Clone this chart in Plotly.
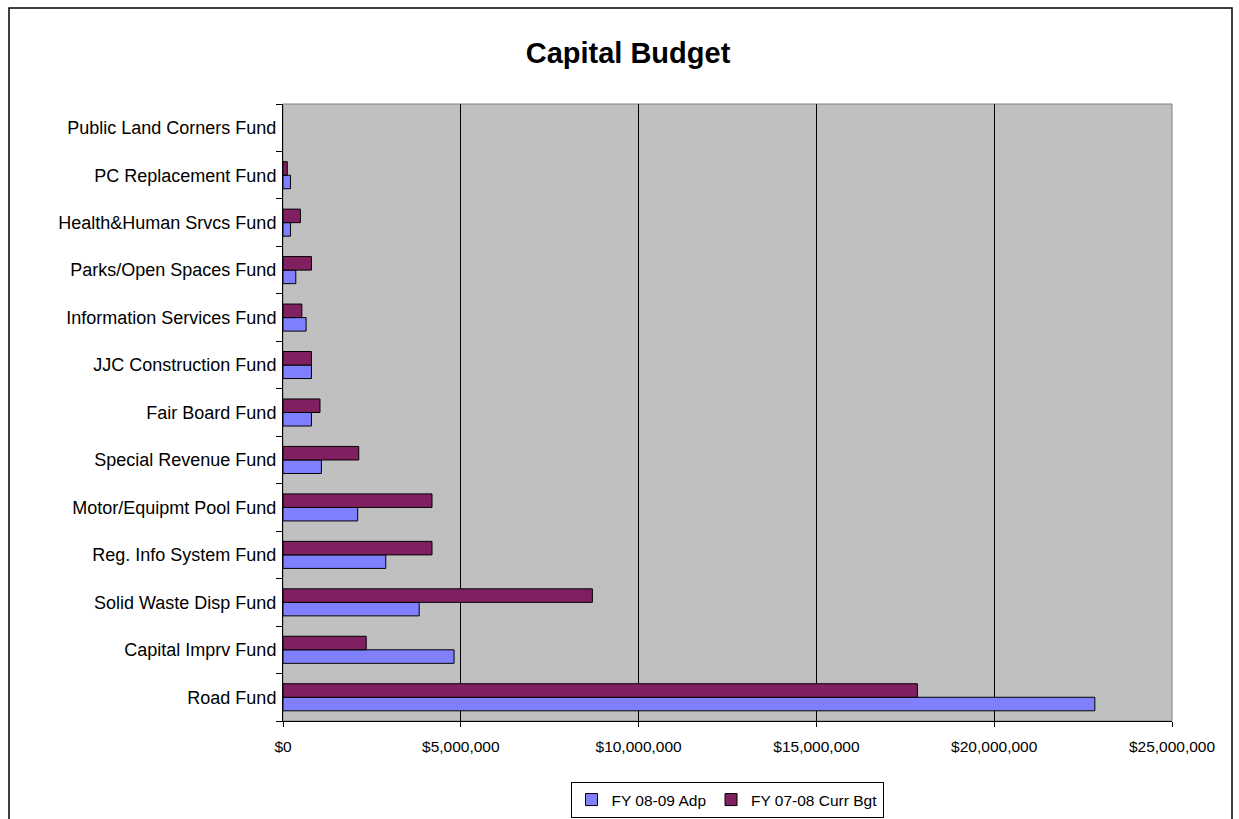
import plotly.graph_objects as go

categories = [
    "Road Fund", "Capital Imprv Fund", "Solid Waste Disp Fund", "Reg. Info System Fund",
    "Motor/Equipmt Pool Fund", "Special Revenue Fund", "Fair Board Fund",
    "JJC Construction Fund", "Information Services Fund", "Parks/Open Spaces Fund",
    "Health&Human Srvcs Fund", "PC Replacement Fund", "Public Land Corners Fund",
]
fy0809_adp = [22830000, 4810000, 3830000, 2890000, 2100000, 1080000, 800000,
              800000, 650000, 360000, 210000, 210000, 0]
fy0708_curr = [17840000, 2340000, 8700000, 4190000, 4190000, 2130000, 1040000,
               800000, 530000, 800000, 490000, 120000, 0]
x_tickvals = [0, 5000000, 10000000, 15000000, 20000000, 25000000]
x_ticktext = ["$0", "$5,000,000", "$10,000,000", "$15,000,000", "$20,000,000", "$25,000,000"]

FONT = "Arial, 'Liberation Sans', sans-serif"

fig = go.Figure()
fig.add_trace(go.Bar(y=categories, x=fy0809_adp, orientation="h", name="FY 08-09 Adp",
                     marker=dict(color="#8080FF",
                                 line=dict(color="black", width=[1 if v > 0 else 0 for v in fy0809_adp]))))
fig.add_trace(go.Bar(y=categories, x=fy0708_curr, orientation="h", name="FY 07-08 Curr Bgt",
                     marker=dict(color="#802060",
                                 line=dict(color="black", width=[1 if v > 0 else 0 for v in fy0708_curr]))))

W, H = 1239, 819
L, R, T, B = 283, W - 1172, 104, H - 721
pw, ph = W - L - R, H - T - B

def px(x):
    return (x - L) / pw

def py(y):
    return (H - B - y) / ph

fig.update_layout(
    width=W, height=H,
    margin=dict(l=L, r=R, t=T, b=B, pad=0, autoexpand=False),
    paper_bgcolor="white",
    plot_bgcolor="#C0C0C0",
    barmode="group",
    bargap=0.43,
    bargroupgap=0,
    font=dict(family=FONT, color="black"),
    title=dict(text="<b>Capital Budget</b>", x=628 / W, xref="container", xanchor="center",
               y=1 - 53 / H, yref="container", yanchor="middle",
               font=dict(family=FONT, size=29, color="black")),
    legend=dict(orientation="h", x=727 / W, xref="container", xanchor="center",
                y=1 - 782 / H, yref="container", yanchor="top",
                bordercolor="black", borderwidth=1, bgcolor="white",
                font=dict(family=FONT, size=15.5), traceorder="normal",
                itemwidth=30, tracegroupgap=0),
    xaxis=dict(range=[0, 25000000], tickvals=x_tickvals, ticktext=x_ticktext,
               showgrid=True, gridcolor="black", gridwidth=1, zeroline=False,
               showline=True, linecolor="black", linewidth=1,
               ticks="outside", ticklen=5, tickcolor="black", ticklabelstandoff=6,
               tickfont=dict(family=FONT, size=15.5), fixedrange=True, automargin=False),
    yaxis=dict(categoryorder="array", categoryarray=categories,
               showgrid=False, zeroline=False, showline=True, linecolor="black", linewidth=1,
               ticks="outside", ticklen=6, tickcolor="black", tickson="boundaries",
               tickfont=dict(family=FONT, size=18), ticklabelstandoff=2, fixedrange=True,
               automargin=False),
    showlegend=True,
)

# gray top/right plot border
fig.add_shape(type="rect", xref="paper", yref="paper", x0=0, x1=1, y0=0, y1=1,
              line=dict(color="#808080", width=1), layer="below")
# outer chart frame
fig.add_shape(type="rect", xref="paper", yref="paper",
              x0=px(9), x1=px(1232), y0=py(825), y1=py(8),
              line=dict(color="black", width=1.5))

fig.write_html("out.html")
